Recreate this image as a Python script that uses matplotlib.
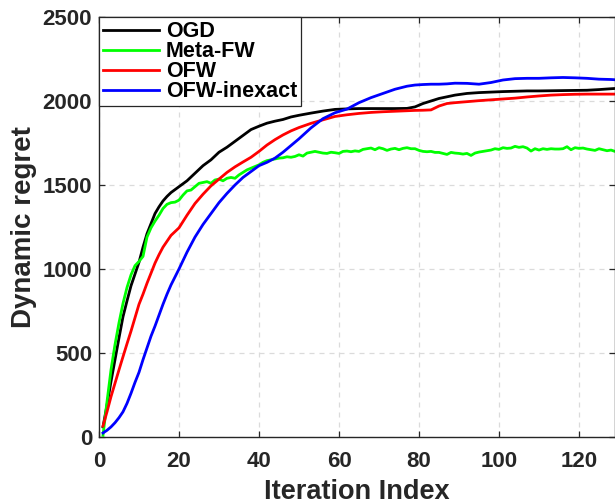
import numpy as np
import matplotlib
matplotlib.use("Agg")
import matplotlib.pyplot as plt

# ---------------- data ----------------
iters_smooth = [1, 2, 3, 4, 5, 6, 7, 8, 9, 10, 11, 12, 13, 14, 15, 16, 17, 18,
                20, 22, 24, 26, 28, 30, 32, 34, 36, 38, 40, 42, 44, 46, 48, 50,
                53, 56, 59, 62, 65, 68, 71, 74, 77, 79, 81, 83, 85, 87, 89, 92,
                95, 98, 101, 104, 107, 110, 113, 116, 119, 122, 125, 128, 130]

ogd = [60, 190, 330, 460, 590, 716, 810, 900, 970, 1040, 1130, 1210, 1270, 1330,
       1370, 1405, 1432, 1455, 1490, 1525, 1570, 1615, 1650, 1695, 1725, 1760,
       1795, 1830, 1850, 1868, 1880, 1890, 1905, 1915, 1928, 1940, 1950, 1953,
       1955, 1955, 1955, 1955, 1956, 1965, 1985, 2000, 2015, 2025, 2035, 2045,
       2050, 2053, 2056, 2058, 2060, 2060, 2061, 2062, 2063, 2064, 2068, 2073,
       2076]

ofw = [65, 150, 240, 320, 400, 478, 555, 630, 710, 790, 850, 915, 975, 1035,
       1085, 1130, 1165, 1200, 1245, 1320, 1390, 1445, 1495, 1535, 1575, 1608,
       1637, 1665, 1700, 1738, 1770, 1798, 1822, 1842, 1867, 1888, 1908, 1918,
       1926, 1932, 1936, 1939, 1942, 1944, 1945, 1947, 1970, 1985, 1990, 1996,
       2002, 2007, 2012, 2017, 2024, 2030, 2035, 2038, 2040, 2041, 2041, 2041,
       2041]

ofw_inexact = [24, 40, 60, 85, 115, 150, 200, 260, 325, 385, 460, 530, 600, 660,
               725, 790, 850, 905, 1000, 1100, 1190, 1265, 1330, 1395, 1450,
               1500, 1545, 1580, 1615, 1635, 1660, 1695, 1735, 1775, 1840, 1895,
               1930, 1952, 1990, 2020, 2045, 2070, 2088, 2095, 2098, 2100, 2100,
               2102, 2106, 2105, 2100, 2110, 2125, 2133, 2135, 2135, 2138, 2140,
               2138, 2135, 2130, 2128, 2125]

iters_meta = list(range(1, 131))
meta_fw = [10, 210, 400, 550, 680, 795, 890, 965, 1020, 1045,
           1075, 1190, 1245, 1285, 1320, 1360, 1385, 1395, 1398, 1410,
           1440, 1465, 1470, 1490, 1510, 1515, 1520, 1510, 1530, 1535,
           1525, 1540, 1545, 1540, 1560, 1575, 1590, 1600, 1610, 1620,
           1635, 1645, 1650, 1655, 1660, 1662, 1668, 1665, 1670, 1680,
           1672, 1690, 1695, 1700, 1695, 1690, 1688, 1695, 1692, 1688,
           1700, 1702, 1698, 1703, 1700, 1712, 1716, 1720, 1710, 1722,
           1716, 1706, 1714, 1718, 1710, 1718, 1722, 1716, 1716, 1706,
           1700, 1698, 1700, 1694, 1694, 1688, 1682, 1694, 1690, 1688,
           1684, 1688, 1676, 1690, 1696, 1700, 1704, 1708, 1716, 1712,
           1722, 1718, 1720, 1730, 1724, 1728, 1720, 1702, 1716, 1708,
           1716, 1712, 1716, 1714, 1714, 1716, 1728, 1710, 1722, 1718,
           1720, 1714, 1710, 1706, 1716, 1710, 1704, 1708, 1700, 1698]

labels = ["OGD", "Meta-FW", "OFW", "OFW-inexact"]
colors = ["#000000", "#00ff00", "#ff0000", "#0000ff"]
xticks = [0, 20, 40, 60, 80, 100, 120]
yticks = [0, 500, 1000, 1500, 2000, 2500]

# ---------------- plot ----------------
plt.rcParams["font.family"] = ["Liberation Sans", "DejaVu Sans"]
plt.rcParams["font.weight"] = "bold"

fig = plt.figure(figsize=(6.15, 5.04), dpi=100)
ax = fig.add_axes([99 / 615, 67 / 504, 1 - 99 / 615, (437 - 17) / 504])

ax.plot(iters_smooth, ogd, color=colors[0], lw=2, label=labels[0])
ax.plot(iters_meta, meta_fw, color=colors[1], lw=2, label=labels[1])
ax.plot(iters_smooth, ofw, color=colors[2], lw=2, label=labels[2])
ax.plot(iters_smooth, ofw_inexact, color=colors[3], lw=2, label=labels[3])

ax.set_xlim(0, 129)
ax.set_ylim(0, 2500)
ax.set_xticks(xticks)
ax.set_yticks(yticks)
ax.grid(True, color="0.86", linestyle=(0, (4, 4)), linewidth=0.9)
ax.set_axisbelow(True)

dark = "0.15"
for s in ax.spines.values():
    s.set_color(dark)
    s.set_linewidth(1.0)
ax.tick_params(direction="in", length=4, width=0.9, colors=dark,
               labelsize=16, top=True, right=True)
ax.tick_params(axis="x", pad=10)
ax.tick_params(axis="y", pad=5)
for lbl in ax.get_xticklabels() + ax.get_yticklabels():
    lbl.set_fontweight("bold")

ax.set_xlabel("Iteration Index", fontsize=19.5, fontweight="bold", color=dark,
              labelpad=5)
ax.set_ylabel("Dynamic regret", fontsize=20, fontweight="bold", color=dark,
              labelpad=4)

leg = ax.legend(loc="upper left", bbox_to_anchor=(0, 1), borderaxespad=0.0,
                handlelength=2.6, handletextpad=0.3,
                labelspacing=-0.05, borderpad=0.2, fancybox=False,
                framealpha=1, edgecolor=dark, prop={"weight": "bold", "size": 15.5})
leg.get_frame().set_linewidth(0.9)

fig.savefig("out.png", dpi=100)
